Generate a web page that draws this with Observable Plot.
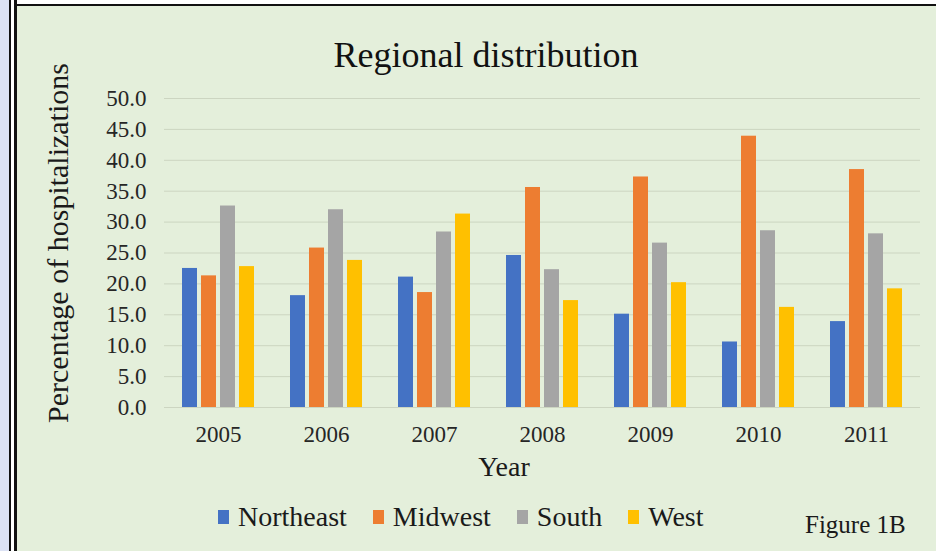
<!DOCTYPE html>
<html>
<head>
<meta charset="utf-8">
<script src="https://cdn.jsdelivr.net/npm/d3@7"></script>
<script src="https://cdn.jsdelivr.net/npm/@observablehq/plot@0.6"></script>
<style>
  body { margin: 0; background: #ffffff; }
  #page {
    position: relative; width: 936px; height: 551px; overflow: hidden;
    background: #ffffff;
    font-family: "Liberation Serif", "Times New Roman", serif; color: #1a1a1a;
  }
  #panel { position: absolute; left: 17px; top: 6px; right: 0; bottom: 0; background: #e4efdb; }
  #topline { position: absolute; left: 14px; top: 4px; right: 0; height: 2px; background: #111; }
  #lav { position: absolute; left: 0; top: 0; bottom: 0; width: 9px; background: #dce2f4; }
  #line1 { position: absolute; left: 9px; top: 0; bottom: 0; width: 2px; background: #111; }
  #line2 { position: absolute; left: 14px; top: 0; bottom: 0; width: 3px; background: #111; }
  #chart { position: absolute; left: 0; top: 0; }
  #chart svg, #chart svg text { font-family: "Liberation Serif", "Times New Roman", serif !important; }
  .lbl { position: absolute; white-space: nowrap; line-height: 1; }
  #title { font-size: 36px; left: 486px; top: 37px; transform: translateX(-50%); color: #111; }
  #xtitle { font-size: 28px; left: 504px; top: 453px; transform: translateX(-50%); }
  #ytitle { font-size: 30px; left: 58px; top: 243px; transform: translate(-50%, -50%) rotate(-90deg); }
  #legend { position: absolute; left: 218px; top: 503px; display: flex; align-items: center; font-size: 28px; line-height: 1; }
  #legend .item { display: flex; align-items: center; margin-right: 26px; }
  #legend .sw { width: 11px; height: 14px; margin-right: 9px; }
  #fig { font-size: 25px; left: 805px; top: 512px; }
</style>
</head>
<body>
<div id="page">
  <div id="lav"></div>
  <div id="line1"></div>
  <div id="line2"></div>
  <div id="topline"></div>
  <div id="panel"></div>
  <div id="chart"></div>
  <div id="title" class="lbl">Regional distribution</div>
  <div id="ytitle" class="lbl">Percentage of hospitalizations</div>
  <div id="xtitle" class="lbl">Year</div>
  <div id="legend"></div>
  <div id="fig" class="lbl">Figure 1B</div>
</div>
<script>
// Share of hospitalizations by US region, per year (%)
const years = ["2005", "2006", "2007", "2008", "2009", "2010", "2011"];
const regions = ["Northeast", "Midwest", "South", "West"];
const northeast = [22.5, 18.1, 21.1, 24.6, 15.1, 10.6, 13.9];
const midwest   = [21.3, 25.8, 18.6, 35.6, 37.3, 43.9, 38.5];
const south     = [32.6, 32.0, 28.4, 22.3, 26.6, 28.6, 28.1];
const west      = [22.8, 23.8, 31.3, 17.3, 20.2, 16.2, 19.2];
const colors = ["#4472c4", "#ed7d31", "#a5a5a5", "#ffc000"];
const yTicks = [0, 5, 10, 15, 20, 25, 30, 35, 40, 45, 50];

const series = [northeast, midwest, south, west];
const data = years.flatMap((year, i) =>
  regions.map((region, j) => ({year, region, value: series[j][i]}))
);

const chart = Plot.plot({
  width: 936,
  height: 551,
  marginTop: 98,
  marginBottom: 144,
  marginLeft: 164,
  marginRight: 16,
  style: {
    background: "transparent",
    fontFamily: "Liberation Serif, Times New Roman, serif",
    fontSize: "23px",
    color: "#262626",
    overflow: "visible"
  },
  fx: {domain: years, padding: 0, label: null, tickSize: 0, tickPadding: 18, axis: "bottom"},
  x: {domain: regions, paddingInner: 0.2, paddingOuter: 0.835, axis: null},
  y: {domain: [0, 50], ticks: yTicks, tickFormat: d => d.toFixed(1), tickSize: 0, tickPadding: 18, label: null},
  color: {domain: regions, range: colors},
  marks: [
    Plot.ruleY(yTicks, {stroke: "#ccd5c1", strokeWidth: 1}),
    Plot.barY(data, {fx: "year", x: "region", y: "value", fill: "region"})
  ]
});
document.getElementById("chart").appendChild(chart);

// Legend swatches from the color scale
const color = chart.scale("color");
const legend = document.getElementById("legend");
color.domain.forEach((name, i) => {
  const item = document.createElement("div");
  item.className = "item";
  const sw = document.createElement("span");
  sw.className = "sw";
  sw.style.background = color.range[i];
  const txt = document.createElement("span");
  txt.textContent = name;
  item.append(sw, txt);
  legend.appendChild(item);
});
</script>
</body>
</html>
